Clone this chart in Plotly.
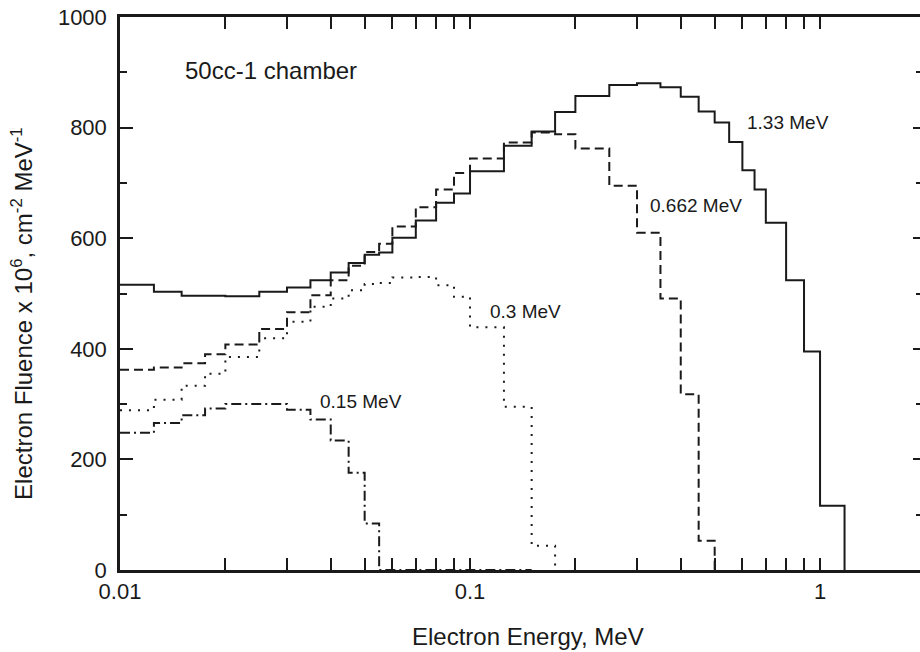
import plotly.graph_objects as go

# Bin edges (MeV) shared by all spectra
edges = [0.01, 0.0125, 0.015, 0.0175, 0.02, 0.025, 0.03, 0.035, 0.04, 0.045, 0.05,
         0.055, 0.06, 0.07, 0.08, 0.09, 0.1, 0.125, 0.15, 0.175, 0.2, 0.25, 0.3,
         0.35, 0.4, 0.45, 0.5, 0.55, 0.6, 0.65, 0.7, 0.8, 0.9, 1.0, 1.175]

# Fluence per bin (x 10^6 cm^-2 MeV^-1)
fluence_133 = [516, 503, 496, 496, 495, 503, 511, 524, 538, 555, 570, 574, 601, 632,
               664, 681, 721, 767, 793, 828, 857, 877, 880, 873, 856, 829, 809, 774,
               723, 688, 628, 524, 395, 116]
fluence_0662 = [362, 366, 374, 390, 408, 436, 466, 497, 524, 550, 575, 590, 621, 656,
                688, 718, 744, 773, 791, 788, 762, 695, 610, 491, 318, 53]
fluence_03 = [289, 308, 333, 355, 385, 419, 449, 476, 491, 506, 517, 519, 529, 530,
              515, 494, 439, 295, 44]
fluence_015 = [248, 266, 280, 292, 300, 300, 290, 272, 234, 176, 84, 0, 0, 0, 0, 0, 0, 0]

labels = ["1.33 MeV", "0.662 MeV", "0.3 MeV", "0.15 MeV"]
chamber = "50cc-1 chamber"

FONT = "Liberation Sans, Arial, sans-serif"
INK = "#1a1a1a"


def step_xy(vals):
    n = len(vals)
    xs = list(edges[:n]) + [edges[n]]
    ys = list(vals) + [0]
    return xs, ys


fig = go.Figure()
styles = [
    (fluence_133, "solid"),
    (fluence_0662, "9px,5px"),
    (fluence_03, "2px,7px"),
    (fluence_015, "10px,4px,2px,4px"),
]
for (vals, dash), name in zip(styles, labels):
    xs, ys = step_xy(vals)
    fig.add_trace(go.Scatter(x=xs, y=ys, mode="lines", name=name,
                             line=dict(shape="hv", color=INK, width=2, dash=dash),
                             showlegend=False, hoverinfo="skip"))

# dummy trace for right-hand tick axis
fig.add_trace(go.Scatter(x=[], y=[], yaxis="y2", showlegend=False))

minor_x = [m * 10.0 ** k for k in (-2, -1, 0) for m in range(2, 10)]

fig.update_layout(
    width=920, height=652,
    margin=dict(l=120, r=0, t=17, b=82),
    paper_bgcolor="white", plot_bgcolor="white",
    font=dict(family=FONT, size=22, color=INK),
    xaxis=dict(type="log", range=[-2, 0.2856],
               tickvals=[0.01, 0.1, 1], ticktext=["0.01", "0.1", "1"],
               ticks="inside", ticklen=12, tickwidth=2, tickcolor=INK,
               showline=True, linewidth=2.5, linecolor=INK, mirror="allticks",
               showgrid=False, zeroline=False,
               minor=dict(tickvals=minor_x, ticks="inside", ticklen=6,
                          tickwidth=1.5, tickcolor=INK, showgrid=False),
               tickfont=dict(size=22)),
    yaxis=dict(range=[0, 1000], tickvals=[0, 200, 400, 600, 800, 1000],
               ticks="inside", ticklen=13, tickwidth=2, tickcolor=INK,
               showline=True, linewidth=2.5, linecolor=INK,
               showgrid=False, zeroline=False,
               minor=dict(dtick=100, ticks="inside", ticklen=7, tickwidth=1.5,
                          tickcolor=INK, showgrid=False),
               tickfont=dict(size=22), ticklabelstandoff=6),
    yaxis2=dict(range=[0, 1000], overlaying="y", side="right",
                tickvals=[0, 200, 400, 600, 800, 1000], showticklabels=False,
                ticks="inside", ticklen=7, tickwidth=2, tickcolor=INK,
                showline=False, showgrid=False, zeroline=False,
                minor=dict(dtick=100, ticks="inside", ticklen=4, tickwidth=1.5,
                           tickcolor=INK, showgrid=False)),
)

annots = [
    (labels[0], 0.7812, 0.8089),
    (labels[1], 0.6604, 0.660),
    (labels[2], 0.4604, 0.4671),
    (labels[3], 0.2479, 0.3056),
]
for text, ax, ay in annots:
    fig.add_annotation(text=text, xref="paper", yref="paper", x=ax, y=ay,
                       xanchor="left", yanchor="middle", showarrow=False,
                       font=dict(size=19, color=INK, family=FONT))

fig.add_annotation(text=chamber, xref="paper", yref="paper", x=0.0791, y=0.904,
                   xanchor="left", yanchor="middle", showarrow=False,
                   font=dict(size=24, color=INK, family=FONT))

fig.add_annotation(text="Electron Energy, MeV", xref="paper", yref="paper",
                   x=0.658, y=-0.121, xanchor="right", yanchor="middle",
                   showarrow=False, font=dict(size=24, color=INK, family=FONT))

fig.add_annotation(text="Electron Fluence x 10<sup>6</sup>, cm<sup>-2</sup> MeV<sup>-1</sup>",
                   xref="paper", yref="paper", x=-0.1225, y=0.463,
                   xanchor="center", yanchor="middle", textangle=-90,
                   showarrow=False, font=dict(size=24, color=INK, family=FONT))

fig.write_html("out.html")
